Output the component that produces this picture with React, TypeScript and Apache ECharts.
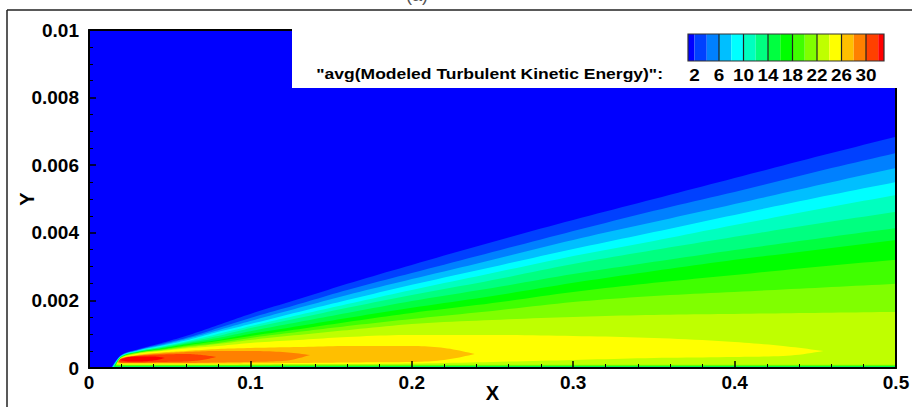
import { useEffect, useRef } from "react";
import * as echarts from "echarts";

const FONT = '"Liberation Sans", Arial, Helvetica, sans-serif';

// Contour levels of the averaged modelled turbulent kinetic energy
const levels = [2, 4, 6, 8, 10, 12, 14, 16, 18, 20, 22, 24, 26, 28, 30, 32];
// Band colours: below the first level, between each pair, above the last
const bandColors = [
  "#0000ff", "#0040ff", "#0080ff", "#00bfff", "#00ffff", "#00ffbf", "#00ff80", "#00ff40",
  "#00ff00", "#40ff00", "#80ff00", "#bfff00", "#ffff00", "#ffbf00", "#ff8000", "#ff4000", "#ff0000",
];
const legendTicks = [2, 6, 10, 14, 18, 22, 26, 30];
const xTickValues = [0, 0.1, 0.2, 0.3, 0.4, 0.5];
const yTickValues = [0, 0.002, 0.004, 0.006, 0.008, 0.01];

// Heights below are tabulated in millimetres (y axis is in metres)
const MM = 1e-3;

// Stations along the wall for the open layers (levels 2..22)
const stationX = [0.02, 0.03, 0.045, 0.06, 0.08, 0.1, 0.13, 0.16, 0.2, 0.25, 0.3, 0.35, 0.4, 0.45, 0.5];
// Upper edge of each open layer (value >= level) at the stations
const edge2 = [0.385, 0.547, 0.74, 0.947, 1.27, 1.6, 2.04, 2.49, 3.05, 3.73, 4.38, 5.0, 5.62, 6.24, 6.84];
const edge4 = [0.376, 0.533, 0.71, 0.888, 1.18, 1.48, 1.89, 2.31, 2.81, 3.43, 4.05, 4.65, 5.21, 5.8, 6.36];
const edge6 = [0.367, 0.521, 0.68, 0.858, 1.12, 1.39, 1.78, 2.16, 2.63, 3.2, 3.79, 4.32, 4.85, 5.39, 5.92];
const edge8 = [0.358, 0.509, 0.657, 0.814, 1.07, 1.3, 1.66, 2.01, 2.46, 2.99, 3.52, 4.02, 4.53, 5.03, 5.5];
const edge10 = [0.349, 0.497, 0.636, 0.784, 1.01, 1.24, 1.57, 1.89, 2.31, 2.81, 3.31, 3.76, 4.23, 4.68, 5.12];
const edge12 = [0.34, 0.485, 0.615, 0.755, 0.95, 1.18, 1.48, 1.78, 2.16, 2.6, 3.08, 3.49, 3.88, 4.26, 4.62];
const edge14 = [0.331, 0.473, 0.592, 0.725, 0.89, 1.09, 1.36, 1.63, 1.98, 2.37, 2.78, 3.14, 3.49, 3.82, 4.14];
const edge16 = [0.326, 0.465, 0.574, 0.696, 0.83, 1.01, 1.24, 1.48, 1.78, 2.13, 2.52, 2.87, 3.2, 3.49, 3.79];
const edge18 = [0.32, 0.456, 0.556, 0.666, 0.8, 0.95, 1.15, 1.36, 1.63, 1.92, 2.25, 2.52, 2.75, 2.99, 3.2];
const edge20 = [0.314, 0.447, 0.539, 0.636, 0.74, 0.89, 1.07, 1.24, 1.45, 1.69, 1.95, 2.13, 2.25, 2.37, 2.49];
const edge22 = [0.308, 0.438, 0.521, 0.607, 0.71, 0.83, 0.98, 1.12, 1.3, 1.42, 1.51, 1.57, 1.6, 1.63, 1.66];
const openEdges = [edge2, edge4, edge6, edge8, edge10, edge12, edge14, edge16, edge18, edge20, edge22];
// Leading-edge position of each open layer
const layerStartX = [0.0138, 0.0141, 0.0144, 0.0147, 0.015, 0.0153, 0.0156, 0.0159, 0.0162, 0.0165, 0.0168];
// Thickness of the low-value sublayer at the wall for each open layer (mm)
const wallLayer = [0.009, 0.015, 0.021, 0.027, 0.033, 0.038, 0.044, 0.053, 0.062, 0.074, 0.095];

// Closed lobes of the near-wall peak (levels 24..32): x, upper and lower edge (mm)
const lobe24X = [0.0172, 0.02, 0.03, 0.045, 0.06, 0.08, 0.1, 0.13, 0.16, 0.2, 0.25, 0.3, 0.35, 0.4, 0.43, 0.455];
const lobe24Hi = [0.118, 0.296, 0.42, 0.503, 0.577, 0.651, 0.74, 0.829, 0.917, 0.977, 0.977, 0.947, 0.888, 0.77, 0.651, 0.503];
const lobe24Lo = [0.118, 0.104, 0.104, 0.104, 0.104, 0.104, 0.11, 0.118, 0.118, 0.133, 0.178, 0.237, 0.296, 0.326, 0.355, 0.503];
const lobe26X = [0.0176, 0.02, 0.03, 0.045, 0.06, 0.08, 0.1, 0.13, 0.16, 0.2, 0.22, 0.239];
const lobe26Hi = [0.148, 0.29, 0.385, 0.459, 0.503, 0.562, 0.592, 0.621, 0.651, 0.651, 0.592, 0.414];
const lobe26Lo = [0.148, 0.133, 0.133, 0.133, 0.133, 0.133, 0.139, 0.148, 0.163, 0.178, 0.237, 0.414];
const lobe28X = [0.018, 0.02, 0.03, 0.045, 0.06, 0.08, 0.1, 0.12, 0.137];
const lobe28Hi = [0.178, 0.281, 0.37, 0.429, 0.473, 0.503, 0.503, 0.473, 0.385];
const lobe28Lo = [0.178, 0.148, 0.148, 0.148, 0.148, 0.163, 0.178, 0.207, 0.385];
const lobe30X = [0.0184, 0.02, 0.03, 0.045, 0.06, 0.07, 0.079];
const lobe30Hi = [0.207, 0.275, 0.355, 0.399, 0.414, 0.385, 0.326];
const lobe30Lo = [0.207, 0.163, 0.163, 0.178, 0.192, 0.237, 0.326];
const lobe32X = [0.019, 0.025, 0.03, 0.04, 0.047];
const lobe32Hi = [0.237, 0.326, 0.34, 0.34, 0.296];
const lobe32Lo = [0.237, 0.192, 0.192, 0.222, 0.296];
const lobes = [
  { x: lobe24X, hi: lobe24Hi, lo: lobe24Lo },
  { x: lobe26X, hi: lobe26Hi, lo: lobe26Lo },
  { x: lobe28X, hi: lobe28Hi, lo: lobe28Lo },
  { x: lobe30X, hi: lobe30Hi, lo: lobe30Lo },
  { x: lobe32X, hi: lobe32Hi, lo: lobe32Lo },
];

// Each region is an upper and a lower edge, both running left to right
type Region = { color: string; upper: number[][]; lower: number[][] };

function buildRegions(): Region[] {
  const regions: Region[] = [];
  openEdges.forEach((edge, i) => {
    const lo = wallLayer[i] * MM;
    const upper: number[][] = [[layerStartX[i], lo]];
    stationX.forEach((x, k) => upper.push([x, edge[k] * MM]));
    const lower = [[layerStartX[i], lo], [0.5, lo]];
    regions.push({ color: bandColors[i + 1], upper, lower });
  });
  lobes.forEach((lobe, j) => {
    const n = lobe.x.length;
    const upper = lobe.x.map((x, k) => [x, lobe.hi[k] * MM]);
    const lower = lobe.x.map((x, k) => [x, (k === 0 || k === n - 1 ? lobe.hi[k] : lobe.lo[k]) * MM]);
    regions.push({ color: bandColors[openEdges.length + j + 1], upper, lower });
  });
  return regions;
}

// Monotone cubic (in x) through pixel points, sampled for drawing
function monotoneCurve(pts: number[][], steps = 10): number[][] {
  const n = pts.length;
  if (n < 3) return pts;
  const h: number[] = [];
  const s: number[] = [];
  for (let k = 0; k < n - 1; k++) {
    h.push(pts[k + 1][0] - pts[k][0]);
    s.push((pts[k + 1][1] - pts[k][1]) / h[k]);
  }
  const m: number[] = new Array(n).fill(0);
  for (let k = 1; k < n - 1; k++) {
    const p = (s[k - 1] * h[k] + s[k] * h[k - 1]) / (h[k - 1] + h[k]);
    m[k] = (Math.sign(s[k - 1]) + Math.sign(s[k])) * Math.min(Math.abs(s[k - 1]), Math.abs(s[k]), 0.5 * Math.abs(p)) || 0;
  }
  m[0] = (3 * s[0] - m[1]) / 2;
  m[n - 1] = (3 * s[n - 2] - m[n - 2]) / 2;
  const out: number[][] = [];
  for (let k = 0; k < n - 1; k++) {
    const [x0, y0] = pts[k];
    const [x1, y1] = pts[k + 1];
    const dx = x1 - x0;
    for (let i = 0; i < steps; i++) {
      const t = i / steps;
      const t2 = t * t;
      const t3 = t2 * t;
      const y =
        (2 * t3 - 3 * t2 + 1) * y0 + (t3 - 2 * t2 + t) * dx * m[k] +
        (-2 * t3 + 3 * t2) * y1 + (t3 - t2) * dx * m[k + 1];
      out.push([x0 + dx * t, y]);
    }
  }
  out.push(pts[n - 1]);
  return out;
}

// Colour legend geometry (pixels)
const BAR_LEFT = 688;
const BAR_RIGHT = 884;
const BAR_TOP = 34;
const BAR_BOTTOM = 61;
const levelPx = (v: number) => 694.5 + (v - levels[0]) * 6.125;

function legendGraphics() {
  const els: any[] = [];
  els.push({ type: "rect", z: 100, shape: { x: 292, y: 28, width: 620, height: 60 }, style: { fill: "#ffffff" } });
  for (let i = 0; i < bandColors.length; i++) {
    const x0 = i === 0 ? BAR_LEFT : levelPx(levels[i - 1]);
    const x1 = i === bandColors.length - 1 ? BAR_RIGHT : levelPx(levels[i]);
    els.push({
      type: "rect", z: 101,
      shape: { x: x0, y: BAR_TOP, width: x1 - x0, height: BAR_BOTTOM - BAR_TOP },
      style: { fill: bandColors[i] },
    });
  }
  legendTicks.forEach((t) => {
    const x = levelPx(t);
    if (t !== levels[0]) {
      els.push({ type: "line", z: 102, shape: { x1: x, y1: BAR_TOP, x2: x, y2: BAR_BOTTOM }, style: { stroke: "#222", lineWidth: 1.2 } });
    }
    els.push({
      type: "text", z: 102, x, y: 76, scaleX: 1.18,
      style: { text: String(t), font: `bold 16px ${FONT}`, fill: "#000", align: "center", verticalAlign: "middle" },
    });
  });
  els.push({
    type: "rect", z: 102,
    shape: { x: BAR_LEFT, y: BAR_TOP, width: BAR_RIGHT - BAR_LEFT, height: BAR_BOTTOM - BAR_TOP },
    style: { fill: "none", stroke: "#333", lineWidth: 1.2 },
  });
  els.push({
    type: "text", z: 102, x: 663, y: 74, scaleX: 1.13,
    style: {
      text: '"avg(Modeled Turbulent Kinetic Energy)":',
      font: `bold 15.5px ${FONT}`, fill: "#000", align: "right", verticalAlign: "middle",
    },
  });
  // figure frame and panel caption
  els.push({ type: "line", z: 100, shape: { x1: 7, y1: 10, x2: 912, y2: 10 }, style: { stroke: "#222", lineWidth: 1.5 } });
  els.push({ type: "line", z: 100, shape: { x1: 7, y1: 10, x2: 7, y2: 407 }, style: { stroke: "#222", lineWidth: 1.5 } });
  els.push({
    type: "text", z: 100, x: 417, y: 4,
    style: { text: "(a)", font: `18px ${FONT}`, fill: "#555", align: "center", verticalAlign: "bottom" },
  });
  return els;
}

export default function App() {
  const ref = useRef<HTMLDivElement>(null);
  useEffect(() => {
    const chart = echarts.init(ref.current!, null, { renderer: "svg" });
    const regions = buildRegions();
    const labelStyle = { color: "#000", fontFamily: FONT, fontWeight: "bold" as const, fontSize: 19 };
    chart.setOption({
      animation: false,
      backgroundColor: "#ffffff",
      grid: {
        left: 89, right: 16, top: 30, bottom: 39, show: true, outerBoundsMode: "none",
        backgroundColor: bandColors[0], borderWidth: 0,
      },
      xAxis: [
        {
          type: "value", min: xTickValues[0], max: xTickValues[xTickValues.length - 1], interval: 0.1,
          z: 10,
          name: "X", nameLocation: "middle", nameGap: 15, nameMoveOverlap: false,
          nameTextStyle: { ...labelStyle, fontSize: 20 },
          axisLine: { show: true, lineStyle: { color: "#000", width: 2 } },
          axisTick: { show: true, inside: true, length: 7, lineStyle: { color: "#000", width: 1.5 } },
          minorTick: { show: true, splitNumber: 5, length: 4, lineStyle: { color: "#000", width: 1 } },
          splitLine: { show: false },
          axisLabel: { ...labelStyle, margin: 5 },
        },
        {
          type: "value", position: "top", min: 0, max: 0.5, z: 10,
          axisLine: { show: true, onZero: false, lineStyle: { color: "#000", width: 2 } },
          axisTick: { show: false }, axisLabel: { show: false }, splitLine: { show: false },
        },
      ],
      yAxis: [
        {
          type: "value", min: yTickValues[0], max: yTickValues[yTickValues.length - 1], interval: 0.002,
          z: 10,
          name: "Y", nameLocation: "middle", nameGap: 52, nameMoveOverlap: false,
          nameTextStyle: { ...labelStyle, fontSize: 20 },
          axisLine: { show: true, lineStyle: { color: "#000", width: 2 } },
          axisTick: { show: true, inside: true, length: 7, lineStyle: { color: "#000", width: 1.5 } },
          minorTick: { show: true, splitNumber: 4, length: 4, lineStyle: { color: "#000", width: 1 } },
          splitLine: { show: false },
          axisLabel: { ...labelStyle, margin: 10 },
        },
        {
          type: "value", position: "right", min: 0, max: 0.01, z: 10,
          axisLine: { show: true, onZero: false, lineStyle: { color: "#000", width: 2 } },
          axisTick: { show: false }, axisLabel: { show: false }, splitLine: { show: false },
        },
      ],
      series: [
        {
          type: "custom",
          clip: true,
          data: regions.map((_, i) => [0.25, 0.005, i]),
          renderItem: (params: any, api: any) => {
            const r = regions[params.dataIndex];
            const up = monotoneCurve(r.upper.map((p) => api.coord([p[0], p[1]])));
            const low = monotoneCurve(r.lower.map((p) => api.coord([p[0], p[1]])));
            const pts = up.concat(low.slice().reverse());
            return {
              type: "polygon",
              shape: { points: pts },
              style: { fill: r.color, stroke: null },
            };
          },
        },
      ],
      graphic: legendGraphics(),
    });
    return () => chart.dispose();
  }, []);
  return (
    <div
      ref={ref}
      style={{ position: "fixed", left: 0, top: 0, width: 912, height: 407, background: "#fff" }}
    />
  );
}
